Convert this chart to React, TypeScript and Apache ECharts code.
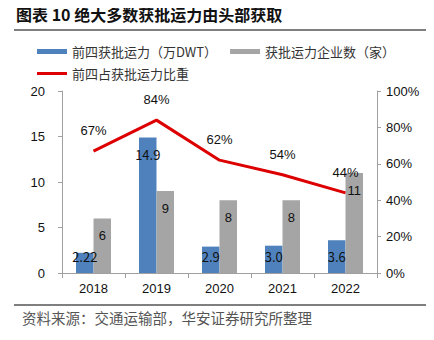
import React, { useEffect, useRef } from "react";
import * as echarts from "echarts";

const categories = ["2018", "2019", "2020", "2021", "2022"];
const top4Capacity = [2.22, 14.9, 2.9, 3.0, 3.6];
const companyCount = [6, 9, 8, 8, 11];
const top4Share = [67, 84, 62, 54, 44];
const capacityLabels = ["2.22", "14.9", "2.9", "3.0", "3.6"];

const title = "图表 10 绝大多数获批运力由头部获取";
const source = "资料来源：交通运输部，华安证券研究所整理";
const nameCapacity = "前四获批运力（万DWT）";
const nameCount = "获批运力企业数（家）";
const nameShare = "前四占获批运力比重";

const BLUE = "#4f81bd";
const GRAY = "#a5a5a5";
const RED = "#dd0000";
const AXIS = "#a0a0a0";
const CJK = "'Noto Sans CJK SC', sans-serif";
const LAT = "'Liberation Sans', Arial, sans-serif";

export default function App() {
  const ref = useRef<HTMLDivElement>(null);
  useEffect(() => {
    if (!ref.current) return;
    const chart = echarts.init(ref.current, undefined, { renderer: "svg" });
    chart.setOption({
      animation: false,
      backgroundColor: "#ffffff",
      graphic: [
        {
          type: "text",
          left: 16,
          top: 6,
          style: { text: title, font: `bold 16px ${CJK}`, fill: "#111" },
        },
        {
          type: "line",
          shape: { x1: 14, y1: 30, x2: 434, y2: 30 },
          style: { stroke: "#555", lineWidth: 1.5 },
        },
        {
          type: "line",
          shape: { x1: 14, y1: 305, x2: 434, y2: 305 },
          style: { stroke: "#555", lineWidth: 1.5 },
        },
        {
          type: "text",
          left: 22,
          top: 310,
          style: { text: source, font: `14.5px ${CJK}`, fill: "#555" },
        },
      ],
      legend: [
        {
          left: 32,
          top: 40,
          itemWidth: 30,
          itemHeight: 5,
          itemGap: 13,
          icon: "rect",
          data: [nameCapacity, nameCount],
          textStyle: { fontFamily: CJK, fontSize: 13, color: "#333" },
        },
        {
          left: 32,
          top: 62,
          itemWidth: 30,
          itemHeight: 3,
          icon: "rect",
          data: [nameShare],
          textStyle: { fontFamily: CJK, fontSize: 13, color: "#333" },
        },
      ],
      grid: { left: 62, right: 57, top: 91, bottom: 67 },
      xAxis: {
        type: "category",
        data: categories,
        axisLine: { lineStyle: { color: AXIS } },
        axisTick: { show: true, length: 5, lineStyle: { color: AXIS } },
        axisLabel: { color: "#111", fontFamily: LAT, fontSize: 13, margin: 9 },
      },
      yAxis: [
        {
          type: "value",
          min: 0,
          max: 20,
          interval: 5,
          splitLine: { show: false },
          axisLine: { show: true, lineStyle: { color: AXIS } },
          axisTick: { show: true, length: 4, lineStyle: { color: AXIS } },
          axisLabel: { color: "#111", fontFamily: LAT, fontSize: 13, margin: 17 },
        },
        {
          type: "value",
          min: 0,
          max: 100,
          interval: 20,
          splitLine: { show: false },
          axisLine: { show: true, lineStyle: { color: AXIS } },
          axisTick: { show: true, length: 4, lineStyle: { color: AXIS } },
          axisLabel: {
            color: "#111",
            fontFamily: LAT,
            fontSize: 13,
            margin: 9,
            formatter: "{value}%",
          },
        },
      ],
      series: [
        {
          name: nameCapacity,
          type: "bar",
          barWidth: 17.5,
          barGap: "0%",
          itemStyle: { color: BLUE },
          data: top4Capacity.map((v, i) => ({
            value: v,
            label: {
              show: true,
              position: v > 10 ? "insideTop" : "insideBottom",
              distance: v > 10 ? 11 : 10,
              formatter: capacityLabels[i],
              color: "#111",
              fontFamily: CJK,
              fontSize: 13,
            },
          })),
          z: 2,
        },
        {
          name: nameCount,
          type: "bar",
          barWidth: 17.5,
          itemStyle: { color: GRAY },
          label: {
            show: true,
            position: "insideTop",
            distance: 11,
            color: "#111",
            fontFamily: LAT,
            fontSize: 13,
          },
          data: companyCount,
          z: 2,
        },
        {
          name: nameShare,
          type: "line",
          yAxisIndex: 1,
          symbol: "circle",
          symbolSize: 0,
          showSymbol: true,
          lineStyle: { color: RED, width: 3 },
          itemStyle: { color: RED },
          label: {
            show: true,
            position: "top",
            distance: 14,
            formatter: "{c}%",
            color: "#111",
            fontFamily: LAT,
            fontSize: 13,
          },
          data: top4Share,
          z: 5,
        },
      ],
    });
    return () => chart.dispose();
  }, []);
  return <div ref={ref} style={{ width: 434, height: 340, margin: -8 }} />;
}
